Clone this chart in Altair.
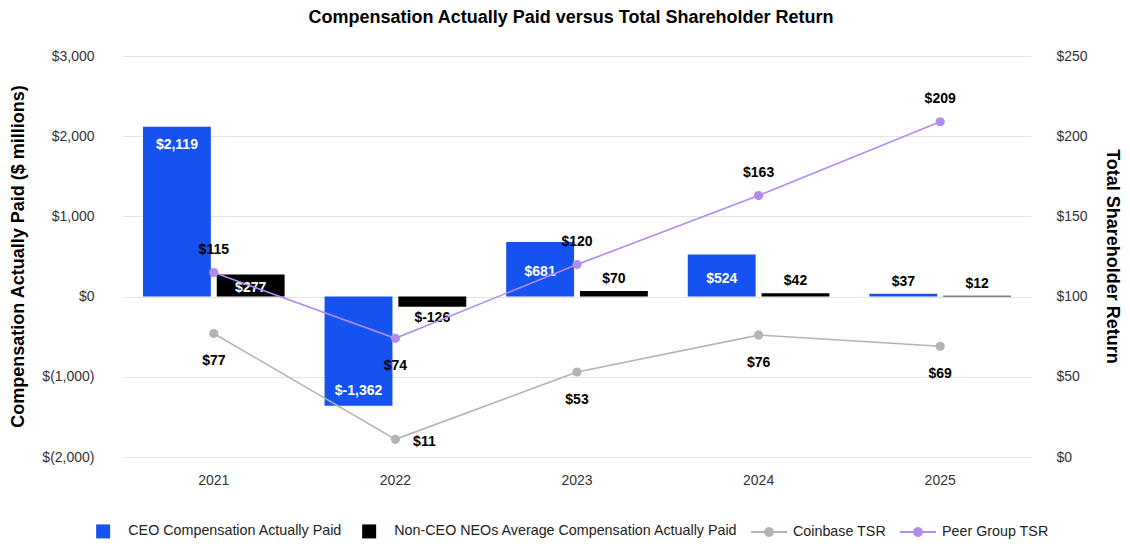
import math
import altair as alt
import pandas as pd

years = ["2021", "2022", "2023", "2024", "2025"]
ceo_cap = [2119, -1362, 681, 524, 37]
neo_cap = [277, -126, 70, 42, 12]
coinbase_tsr = [77, 11, 53, 76, 69]
peer_tsr = [115, 74, 120, 163, 209]

S_CEO = "CEO Compensation Actually Paid"
S_NEO = "Non-CEO NEOs Average Compensation Actually Paid"
S_CB = "Coinbase TSR"
S_PEER = "Peer Group TSR"
bar_series = [S_CEO, S_NEO]
bar_colors = ["#1652F0", "#000000"]
tsr_series = [S_CB, S_PEER]
tsr_colors = ["#B4B4B4", "#B18CEE"]

# label placement for TSR points
coinbase_pos = ["below", "right", "below", "below", "below"]
peer_pos = ["above", "below", "above", "above", "above"]

FONT = "Liberation Sans"

# ---------- tables ----------
bar_rows = []
for series, vals in [(S_CEO, ceo_cap), (S_NEO, neo_cap)]:
    for y, v in zip(years, vals):
        a = abs(v)
        if a >= 1000:
            kind = "end_pos" if v > 0 else "end_neg"
        elif a >= 250:
            kind = "mid"
        else:
            kind = "out_pos" if v >= 0 else "out_neg"
        lab = "$" + format(v, ",")
        bar_rows.append(dict(year=y, series=series, value=v, mid=v / 2, kind=kind, label=lab))
bars_df = pd.DataFrame(bar_rows)

tsr_rows = []
for series, vals, pos in [(S_CB, coinbase_tsr, coinbase_pos), (S_PEER, peer_tsr, peer_pos)]:
    for y, v, p in zip(years, vals, pos):
        tsr_rows.append(dict(year=y, series=series, value=v, pos=p, label="$" + str(v)))
tsr_df = pd.DataFrame(tsr_rows)

# ---------- shared encodings ----------
x_enc = alt.X(
    "year:N",
    scale=alt.Scale(domain=years, paddingInner=0.22, paddingOuter=0.11),
    axis=alt.Axis(title=None, labelAngle=0, domain=False, ticks=False, grid=False,
                  labelPadding=16, labelFontSize=14, labelColor="#333333", labelFont=FONT),
)
xoff_enc = alt.XOffset("series:N", scale=alt.Scale(domain=bar_series, paddingInner=0.08, paddingOuter=0))

# legend symbol shape for line series: a short line with a dot
circ = []
r = 0.22
for i in range(20):
    t = 2 * math.pi * i / 20
    circ.append(f"{r*math.cos(t):.3f},{r*math.sin(t):.3f}")
line_sym = "M-1,0H1M" + "L".join(circ) + "Z"

bar_legend = alt.Legend(
    title=None, orient="none", legendX=-27, legendY=468, direction="horizontal",
    labelFontSize=14.3, labelFont=FONT, labelColor="#222222", labelLimit=0,
    symbolType="square", symbolSize=196, symbolStrokeWidth=0,
    columnPadding=19, labelOffset=18, columns=2,
)
color_enc = alt.Color("series:N", scale=alt.Scale(domain=bar_series, range=bar_colors), legend=bar_legend)


def tsr_legend():
    return alt.Legend(
        title=None, orient="none", legendX=627, legendY=457, direction="horizontal",
        labelFontSize=14.3, labelFont=FONT, labelColor="#222222", labelLimit=0,
        symbolType=line_sym, symbolSize=1296, symbolStrokeWidth=2,
        columnPadding=10, labelOffset=5, columns=2,
    )


stroke_enc = alt.Stroke("series:N", scale=alt.Scale(domain=tsr_series, range=tsr_colors), legend=tsr_legend())
fill_enc = alt.Fill("series:N", scale=alt.Scale(domain=tsr_series, range=tsr_colors), legend=tsr_legend())

left_y_scale = alt.Scale(domain=[-2000, 3000], nice=False)
left_axis = alt.Axis(
    title="Compensation Actually Paid ($ millions)",
    values=[-2000, -1000, 0, 1000, 2000, 3000],
    labelExpr="datum.value < 0 ? '$(' + format(-datum.value, ',') + ')' : '$' + format(datum.value, ',')",
    grid=True, gridColor="#e4e4e4", gridWidth=1.2, domain=False, ticks=False,
    labelPadding=29, labelFontSize=14, labelColor="#333333", labelFont=FONT,
    titleFontSize=18, titleFontWeight="bold", titleColor="#000000", titleFont=FONT,
    titleX=-105, titleY=200, titleAngle=-90, titleAlign="center", titleBaseline="middle",
)
right_y_scale = alt.Scale(domain=[0, 250], nice=False)
right_axis = alt.Axis(
    orient="right", title="Total Shareholder Return",
    values=[0, 50, 100, 150, 200, 250],
    labelExpr="'$' + datum.value",
    grid=False, domain=False, ticks=False,
    labelPadding=25, labelFontSize=14, labelColor="#333333", labelFont=FONT,
    titleFontSize=18, titleFontWeight="bold", titleColor="#000000", titleFont=FONT,
    titleX=80, titleY=200, titleAngle=90, titleAlign="center", titleBaseline="middle",
)

bar_base = alt.Chart(bars_df)

bars = bar_base.mark_bar().encode(
    x=x_enc,
    xOffset=xoff_enc,
    y=alt.Y("value:Q", scale=left_y_scale, axis=left_axis),
    color=color_enc,
)


def bar_text(kind, field, dy, color):
    return bar_base.transform_filter(alt.datum.kind == kind).mark_text(
        font=FONT, fontSize=14, fontWeight="bold", color=color, dy=dy, baseline="middle"
    ).encode(
        x=x_enc, xOffset=xoff_enc,
        y=alt.Y(f"{field}:Q", scale=left_y_scale, axis=left_axis),
        text="label:N",
    )


left = alt.layer(
    bars,
    bar_text("end_pos", "value", 18, "#ffffff"),
    bar_text("end_neg", "value", -15, "#ffffff"),
    bar_text("mid", "mid", 3, "#ffffff"),
    bar_text("out_pos", "value", -12, "#000000"),
    bar_text("out_neg", "value", 11, "#000000"),
)

tsr_base = alt.Chart(tsr_df)
ry = alt.Y("value:Q", scale=right_y_scale, axis=right_axis)
lines = tsr_base.mark_line(strokeWidth=1.6).encode(x=x_enc, y=ry, stroke=stroke_enc)
points = tsr_base.mark_circle(size=85, opacity=1).encode(x=x_enc, y=ry, fill=fill_enc)


def tsr_text(pos, dx, dy):
    return tsr_base.transform_filter(alt.datum.pos == pos).mark_text(
        font=FONT, fontSize=14, fontWeight="bold", color="#000000", dx=dx, dy=dy, baseline="middle"
    ).encode(x=x_enc, y=ry, text="label:N")


right = alt.layer(
    lines, points,
    tsr_text("above", 0, -23),
    tsr_text("below", 0, 28),
    tsr_text("right", 29, 3),
)

chart = alt.layer(left, right).resolve_scale(y="independent").properties(
    width=908, height=401,
    autosize=alt.AutoSizeParams(type="none"),
    padding={"left": 115, "top": 48, "right": 90, "bottom": 88},
    title=alt.TitleParams(
        "Compensation Actually Paid versus Total Shareholder Return",
        font=FONT, fontSize=18, fontWeight="bold", color="#000000",
        anchor="middle", offset=22, dx=-6,
    ),
).configure(font=FONT).configure_view(strokeWidth=0, stroke="transparent")

chart.save("out.html", embed_options={"renderer": "svg", "actions": False})
